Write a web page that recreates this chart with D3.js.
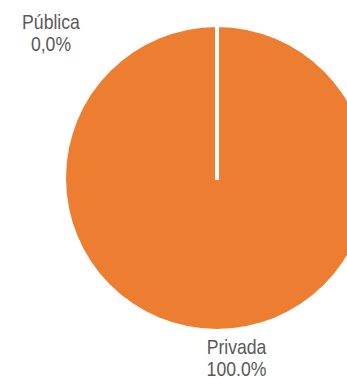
<!DOCTYPE html>
<html>
<head>
<meta charset="utf-8">
<script src="https://cdn.jsdelivr.net/npm/d3@7"></script>
<style>
  body { margin: 0; background: #fff; }
  text { font-family: "Liberation Sans Narrow", "Arial Narrow", "Liberation Sans", Arial, sans-serif; fill: #595959; }
</style>
</head>
<body>
<svg id="chart"></svg>
<script>
var categories = ["Pública", "Privada"];
var values = [0, 100];
var valueLabels = ["0,0%", "100.0%"];

var width = 347, height = 378;
var cx = 217, cy = 178, radius = 151;

// label offsets from the pie centre (x of text centre, y of first baseline)
var labelPos = [[-166, -149], [19.5, 176]];

var svg = d3.select("#chart")
    .attr("width", width)
    .attr("height", height);

var g = svg.append("g")
    .attr("transform", "translate(" + cx + "," + cy + ")");

var pie = d3.pie().sort(null).value(function (d) { return d; });
var arc = d3.arc().innerRadius(0).outerRadius(radius);

var arcs = pie(values);

g.selectAll("path")
    .data(arcs)
    .enter()
    .append("path")
    .attr("d", arc)
    .attr("fill", "#ED7D31");

// slice borders (only visible where a slice edge sits inside the pie)
g.selectAll(".edge")
    .data(arcs.filter(function (d) { return d.endAngle - d.startAngle < 2 * Math.PI - 1e-6; }))
    .enter()
    .append("line")
    .attr("class", "edge")
    .attr("x1", 0)
    .attr("y1", 2)
    .attr("x2", function (d) { return (radius + 2) * Math.sin(d.startAngle); })
    .attr("y2", function (d) { return -(radius + 2) * Math.cos(d.startAngle); })
    .attr("stroke", "#fff")
    .attr("stroke-width", 4);

var labels = g.selectAll(".lbl")
    .data(arcs)
    .enter()
    .append("text")
    .attr("class", "lbl")
    .attr("text-anchor", "middle")
    .style("font-size", "20.5px")
    .attr("transform", function (d, i) {
        return "translate(" + labelPos[i][0] + "," + labelPos[i][1] + ") scale(0.86,1)";
    });

labels.append("tspan")
    .attr("x", 0)
    .attr("y", 0)
    .text(function (d, i) { return categories[i]; });

labels.append("tspan")
    .attr("x", 0)
    .attr("y", 22)
    .text(function (d, i) { return valueLabels[i]; });
</script>
</body>
</html>
